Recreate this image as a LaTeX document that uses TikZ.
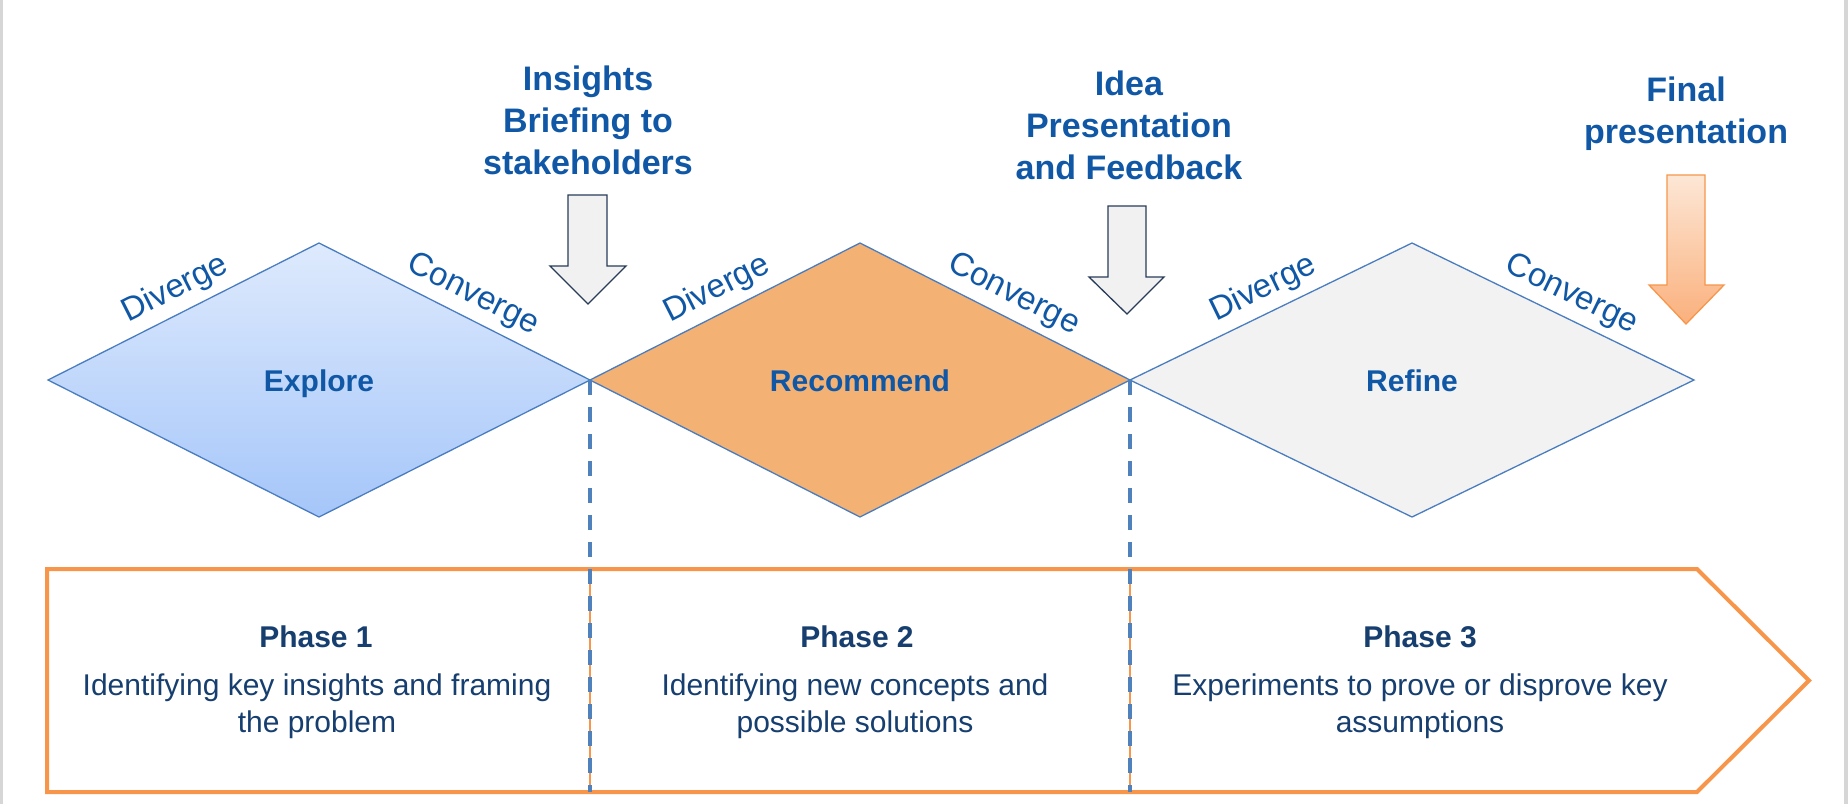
\documentclass[tikz,border=0pt]{standalone}
\usepackage{fontspec}
\setmainfont{Liberation Sans}
\definecolor{hdrblue}{HTML}{1058A6}
\definecolor{navytext}{HTML}{163E6F}
\definecolor{edgeblue}{HTML}{4A7DBF}
\definecolor{dashblue}{HTML}{4F81BD}
\definecolor{arrowline}{HTML}{283C5A}
\definecolor{arrowgray}{HTML}{F1F1F1}
\definecolor{boxorange}{HTML}{F7964A}
\definecolor{recfill}{HTML}{F3B173}
\definecolor{reffill}{HTML}{F2F2F2}
\definecolor{exptop}{HTML}{DEEAFD}
\definecolor{expbot}{HTML}{A5C6F9}
\definecolor{fintop}{HTML}{FDE7D6}
\definecolor{finbot}{HTML}{FAB07C}
\definecolor{framegray}{HTML}{D6D6D6}
\begin{document}
\begin{tikzpicture}[x=1pt,y=-1pt,
  diamondpath/.style={draw=edgeblue, line width=1.3pt, line join=miter},
  milestone/.style={draw=arrowline, fill=arrowgray, line width=1.3pt},
  header/.style={text=hdrblue, align=center, inner sep=0pt, anchor=north,
    font=\fontsize{34}{42}\selectfont\bfseries},
  phaselabel/.style={text=hdrblue, inner sep=0pt, anchor=base,
    font=\fontsize{30}{36}\selectfont\bfseries},
  flowlabel/.style={text=hdrblue, inner sep=0pt, sloped, above=8pt,
    font=\fontsize{33}{38}\selectfont},
  phasetitle/.style={text=navytext, inner sep=0pt, anchor=base,
    font=\fontsize{30}{36}\selectfont\bfseries},
  phasebody/.style={text=navytext, align=center, inner sep=0pt, anchor=north,
    font=\fontsize{30}{36.5}\selectfont},
  phaseline/.style={dashblue, line width=3.2pt, dash pattern=on 15pt off 12pt},
  divider/.style={boxorange, line width=1.2pt}]

\useasboundingbox (0,0) rectangle (1848,804);
\fill[white] (0,0) rectangle (1848,804);
% side frame lines
\fill[framegray] (0,0) rectangle (3,804);
\fill[framegray] (1844,0) rectangle (1848,804);

% diamond corners
\coordinate (d1l) at (48,380);   \coordinate (d1t) at (319,243);
\coordinate (d1r) at (590,380);  \coordinate (d1b) at (319,517);
\coordinate (d2t) at (860,243);  \coordinate (d2r) at (1130,380);
\coordinate (d2b) at (860,517);
\coordinate (d3t) at (1412,243); \coordinate (d3r) at (1694,380);
\coordinate (d3b) at (1412,517);

% the three diamonds
\path[diamondpath, top color=exptop, bottom color=expbot]
  (d1l) -- (d1t) -- (d1r) -- (d1b) -- cycle;
\path[diamondpath, fill=recfill]
  (d1r) -- (d2t) -- (d2r) -- (d2b) -- cycle;
\path[diamondpath, fill=reffill]
  (d2r) -- (d3t) -- (d3r) -- (d3b) -- cycle;

\node[phaselabel] (explore) at (319,391) {Explore};
\node[phaselabel] (recommend) at (860,391) {Recommend};
\node[phaselabel] (refine) at (1412,391) {Refine};

% diverge / converge labels along the upper edges
\path (d1l) -- (d1t) node[flowlabel, pos=0.51] (div1) {Diverge};
\path (d1t) -- (d1r) node[flowlabel, pos=0.53] (con1) {Converge};
\path (d1r) -- (d2t) node[flowlabel, pos=0.51] (div2) {Diverge};
\path (d2t) -- (d2r) node[flowlabel, pos=0.53] (con2) {Converge};
\path (d2r) -- (d3t) node[flowlabel, pos=0.51] (div3) {Diverge};
\path (d3t) -- (d3r) node[flowlabel, pos=0.53] (con3) {Converge};

% phase band
\coordinate (bl) at (47,569);
\coordinate (tipstart) at (1697,569);
\coordinate (tip) at (1809,680.5);
\coordinate (tipend) at (1697,792);
\coordinate (br) at (47,792);
\fill[white] (bl) -- (tipstart) -- (tip) -- (tipend) -- (br) -- cycle;
\coordinate (cut1top) at (590,569);  \coordinate (cut1bot) at (590,792);
\coordinate (cut2top) at (1130,569); \coordinate (cut2bot) at (1130,792);
\draw[divider] (cut1top) -- (cut1bot);
\draw[divider] (cut2top) -- (cut2bot);
\draw[boxorange, line width=4pt, line join=miter]
  (bl) -- (tipstart) -- (tip) -- (tipend) -- (br) -- cycle;

% dashed phase boundaries
\draw[phaseline] (d1r) -- (cut1bot);
\draw[phaseline] (d2r) -- (cut2bot);

% phase texts
\node[phasetitle] (p1) at (316,647) {Phase 1};
\node[phasetitle] (p2) at (857,647) {Phase 2};
\node[phasetitle] (p3) at (1420,647) {Phase 3};
\node[phasebody] (b1) at (317,674) {Identifying key insights and framing\\the problem};
\node[phasebody] (b2) at (855,674) {Identifying new concepts and\\possible solutions};
\node[phasebody] (b3) at (1420,674) {Experiments to prove or disprove key\\assumptions};

% milestone arrows
\path[milestone] (568,195) -- (607,195) -- (607,266) -- (626,266)
  -- (588,304) coordinate (a1tip) -- (550,266) -- (568,266) -- cycle;
\path[milestone] (1108,206) -- (1146,206) -- (1146,277) -- (1164,277)
  -- (1127,314) coordinate (a2tip) -- (1089,277) -- (1108,277) -- cycle;
\path[draw=boxorange, line width=1.3pt, top color=fintop, bottom color=finbot]
  (1667,175) -- (1705,175) -- (1705,285) -- (1724,285)
  -- (1686,324) coordinate (a3tip) -- (1649,285) -- (1667,285) -- cycle;

% milestone headings
\node[header] (h1) at (588,65.5) {Insights\\Briefing to\\stakeholders};
\node[header] (h2) at (1129,70.5) {Idea\\Presentation\\and Feedback};
\node[header] (h3) at (1686,77) {Final\\presentation};

\end{tikzpicture}
\end{document}
